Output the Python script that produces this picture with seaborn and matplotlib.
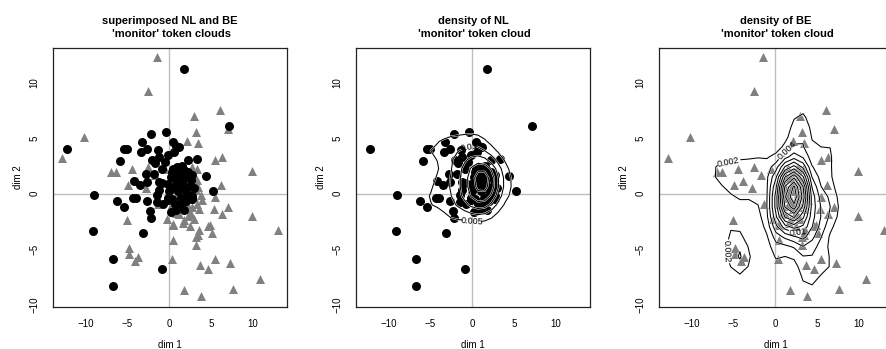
"""
Superimposed NL and BE 'monitor' token clouds, plus 2D density contours
for each cloud separately (kde2d-style grid, contour levels in density units).
"""

import numpy as np
import pandas as pd
import matplotlib
matplotlib.use("Agg")
import matplotlib.pyplot as plt
import matplotlib.patheffects as pe
import seaborn as sns

# =========================
# Data
# =========================

nl_x = [1.8, 7.16, -12.24, -9.04, -9.12, -3.2, -6.72, -6.72, -0.88, 5.24,
        4.48, 3.36, 2.28, 2.76, -0.44, -2.24, -3.32, -5.4, -5.04, -5.96,
        -6.24, -5.48, -4.32, -4.04, -4.2, -3.52, -3.44, -2.68, -2.12, -2.84,
        -2.64, -2.64, -2.28, -2.2, -1.52, -0.72, -1.52, -1.2, -1.2, -0.84,
        -1.32, -0.2, 0.44, 0.8, 1.16, 0.64, -1.2, -1.72, -0.52, 0.52,
        1.6, 1.76, 1.88, 0.92, 0.28, 0.88, 1.8, -0.12, -0.88, -1.84,
        0.0, 0.3, 0.6, 0.8, 1.1, 1.4, 1.6, 1.9, 2.2, 2.5,
        0.2, 0.5, 0.9, 1.1, 1.4, 1.5, 1.8, 2.0, 2.3, 2.6,
        -0.1, 0.7, 1.2, 2.7, 2.8, 1.1, 1.6, 3.0, -0.2, 0.4]
nl_y = [11.2, 6.07, 4.05, -0.15, -3.4, -3.5, -5.85, -8.35, -6.75, 0.27,
        1.6, 3.1, 3.06, -0.45, 5.55, 5.4, 4.6, 4.05, 4.05, 2.9,
        -0.7, -1.2, -0.4, -0.4, 1.15, 0.75, 3.7, 4.05, 3.0, 1.8,
        1.05, -0.7, -1.55, -2.15, -0.75, -0.95, -0.1, 0.3, 1.05, 2.25,
        3.9, 3.5, 4.65, 4.25, 4.2, 3.7, 3.3, 2.75, 2.8, 2.25,
        2.5, 2.15, 1.85, 1.8, -1.65, -1.5, -1.45, -0.6, 0.95, 1.8,
        0.2, -0.5, 0.6, 1.2, 0.2, -0.4, 0.9, 1.5, 0.0, 0.7,
        1.5, 2.1, 2.4, 1.6, 2.3, 1.1, 0.4, -0.7, 1.9, 1.2,
        0.9, -0.9, 0.8, -0.2, 1.7, -1.0, -0.8, 0.5, -0.4, 1.9]

be_x = [-1.5, -2.6, -10.2, -12.9, 6.1, 3.0, 7.1, 3.2, 2.1, 3.5,
        5.5, 6.3, 9.95, 9.95, 13.1, 10.9, 7.7, 7.3, 5.5, 4.7,
        3.65, 3.85, 1.75, 0.3, 0.45, -5.05, -4.85, -4.85, -3.7, -4.15,
        3.6, 3.5, 3.2, 3.2, 4.7, 5.2, 3.6, 3.9, 3.8, 3.35,
        3.4, 2.75, 3.0, 2.65, 1.8, 0.85, 0.5, -0.3, 7.1, 6.3,
        6.2, 5.5, 5.4, 4.9, 0.5,
        -7.0, -6.4, -4.45, -2.5, -4.9, -3.85, -2.8, -1.75, -0.55, -1.35,
        1.0, 1.6, 2.2, 2.8, 0.8, 1.4, 2.0, 2.6, 3.2, 0.6,
        1.2, 1.8, 2.4, 3.0, 0.7, 1.3, 1.9, 2.5, 3.3, 0.9,
        1.5, 2.1, 2.8, 1.2, 2.3, 3.0, 1.7, 2.5, 2.0, 1.6,
        2.7, 1.1, 3.5, 0.4, 2.2, 1.8]
be_y = [12.25, 9.2, 5.1, 3.2, 7.5, 7.0, 5.85, 5.5, 4.7, 4.55,
        3.0, 3.3, 2.05, -2.0, -3.3, -7.7, -8.6, -6.2, -5.9, -6.8,
        -6.4, -9.25, -8.7, -5.85, -4.15, -2.4, -4.85, -5.4, -5.7, -6.1,
        -3.3, -3.7, -4.6, -3.9, -2.9, -3.5, -1.4, -0.6, -0.15, 1.2,
        2.2, 2.4, 0.75, -1.8, -2.4, -1.75, -2.75, -2.25, -1.2, -1.8,
        0.75, -0.3, -1.35, -2.85, -2.85,
        1.95, 1.95, 2.25, 2.35, 0.75, 1.1, 0.5, 1.65, 2.25, -0.9,
        2.0, 2.3, 1.9, 1.6, 1.2, 1.4, 1.0, 0.9, 0.3, 0.4,
        0.6, 0.2, 0.3, -0.3, -0.4, -0.2, -0.6, -0.5, -0.9, -1.1,
        -1.0, -1.4, -1.2, -1.8, -2.0, -2.3, -2.6, -2.9, 0.6, -0.4,
        0.1, 0.1, 0.6, -0.9, -0.9, 1.5]

titles = [
    "superimposed NL and BE\n 'monitor' token clouds",
    "density of NL\n 'monitor' token cloud",
    "density of BE\n 'monitor' token cloud",
]
ticks = [-10, -5, 0, 5, 10]

# contour spacing (density units) and where the labels sit
nl_step = 0.005
be_step = 0.002
nl_label_at = [(0.0, -2.2), (-0.4, 4.4)]
be_label_at = [(-5.6, 2.9), (1.6, 3.7), (-5.3, -5.2), (2.8, -3.3)]

nl = pd.DataFrame({"x": nl_x, "y": nl_y})
be = pd.DataFrame({"x": be_x, "y": be_y})

NL_COLOR = "black"
BE_COLOR = "#808080"
FONT = ["Liberation Sans", "DejaVu Sans"]


def kde2d(x, y, n=25):
    """
    Same recipe as MASS::kde2d: gaussian kernel, bandwidth.nrd / 4,
    grid over the range of the data.
    """

    def bw(v):
        q75, q25 = np.percentile(v, [75, 25])
        return 1.06 * min(np.std(v, ddof=1), (q75 - q25) / 1.34) * len(v) ** (-0.2)

    x = np.asarray(x)
    y = np.asarray(y)
    hx, hy = bw(x), bw(y)
    gx = np.linspace(x.min(), x.max(), n)
    gy = np.linspace(y.min(), y.max(), n)
    ax_ = np.exp(-0.5 * ((gx[:, None] - x[None, :]) / hx) ** 2) / np.sqrt(2 * np.pi)
    ay_ = np.exp(-0.5 * ((gy[:, None] - y[None, :]) / hy) ** 2) / np.sqrt(2 * np.pi)
    z = ax_ @ ay_.T / (len(x) * hx * hy)
    return gx, gy, z


def style_axes(ax, title):
    ax.set_xlim(-13.95, 14.15)
    ax.set_ylim(-10.2, 13.1)
    ax.axhline(0, color="#BEBEBE", lw=1, zorder=1)
    ax.axvline(0, color="#BEBEBE", lw=1, zorder=1)
    ax.set_xticks(ticks)
    ax.set_yticks(ticks)
    ax.tick_params(axis="both", direction="out", length=3.6, width=0.8,
                   labelsize=7, colors="black")
    ax.tick_params(axis="x", pad=5)
    ax.tick_params(axis="y", pad=6)
    for lab in ax.get_yticklabels():
        lab.set_rotation(90)
        lab.set_va("center")
    ax.set_xlabel("dim 1", fontsize=7, labelpad=8)
    ax.set_ylabel("dim 2", fontsize=7, labelpad=5)
    ax.set_title(title, fontsize=8, fontweight="bold", pad=8, linespacing=1.3,
                 color="black")
    for side in ax.spines.values():
        side.set_color("#222222")
        side.set_linewidth(0.9)


def draw_points(ax, df, marker, color, size):
    sns.scatterplot(data=df, x="x", y="y", ax=ax, marker=marker, color=color,
                    s=size, linewidth=0, zorder=3, legend=False)


def draw_density(ax, df, step, label_at):
    gx, gy, z = kde2d(df["x"], df["y"])
    levels = np.arange(step, z.max(), step)
    cs = ax.contour(gx, gy, z.T, levels=levels, colors="black",
                    linewidths=0.75, zorder=4)
    cs.set_path_effects([pe.Stroke(linewidth=1.4, foreground="white"), pe.Normal()])
    labels = ax.clabel(cs, fontsize=6.5, fmt=lambda v: f"{v:g}", inline=True,
                       inline_spacing=2, manual=label_at)
    for t in labels:
        t.set_zorder(5)


def main():
    sns.set_style("white")
    plt.rcParams["font.family"] = FONT
    plt.rcParams["text.color"] = "black"
    plt.rcParams["axes.labelcolor"] = "black"

    fig = plt.figure(figsize=(8.87, 3.49), dpi=100)
    bottom = 42 / 349
    height = 259 / 349
    lefts = [53 / 887, 356 / 887, 659 / 887]
    width = 234 / 887

    axes = [fig.add_axes([l, bottom, width, height]) for l in lefts]

    # 1. both clouds
    draw_points(axes[0], be, "^", BE_COLOR, 42)
    draw_points(axes[0], nl, "o", NL_COLOR, 42)

    # 2. NL with its density
    draw_points(axes[1], nl, "o", NL_COLOR, 42)
    draw_density(axes[1], nl, nl_step, nl_label_at)

    # 3. BE with its density
    draw_points(axes[2], be, "^", BE_COLOR, 42)
    draw_density(axes[2], be, be_step, be_label_at)

    for ax, title in zip(axes, titles):
        style_axes(ax, title)

    fig.savefig("out.png", dpi=100)
    plt.close(fig)


if __name__ == "__main__":
    main()
